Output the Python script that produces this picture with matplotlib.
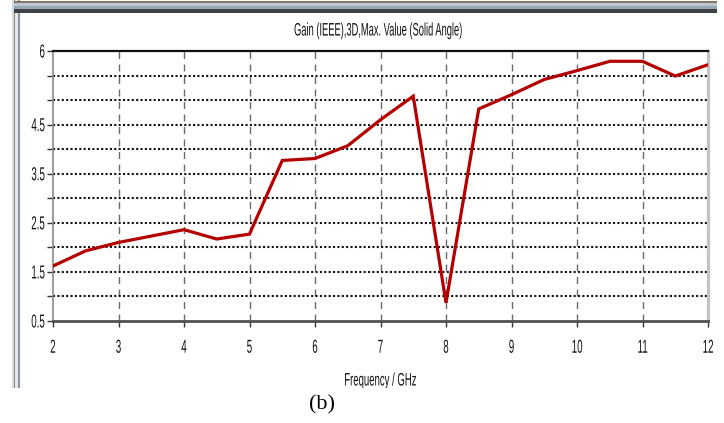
import matplotlib
matplotlib.use("Agg")
import matplotlib.pyplot as plt
from matplotlib.patches import Rectangle
from matplotlib import patheffects
from matplotlib.transforms import Affine2D

# Gain vs frequency data
freq_ghz = [2.0, 2.5, 3.0, 3.5, 4.0, 4.5, 5.0, 5.5, 6.0, 6.5, 7.0,
            7.5, 8.0, 8.5, 9.0, 9.5, 10.0, 10.5, 11.0, 11.5, 12.0]
gain_dbi = [1.62, 1.93, 2.10, 2.23, 2.36, 2.17, 2.27, 3.77, 3.81, 4.07, 4.60,
            5.08, 0.87, 4.82, 5.11, 5.42, 5.60, 5.79, 5.79, 5.49, 5.72]

x_ticks = list(range(2, 13))
y_grid = [0.5, 1.0, 1.5, 2.0, 2.5, 3.0, 3.5, 4.0, 4.5, 5.0, 5.5, 6.0]
y_labels = {0.5: "0.5", 1.5: "1.5", 2.5: "2.5", 3.5: "3.5", 4.5: "4.5", 6.0: "6"}

title_text = "Gain (IEEE),3D,Max. Value (Solid Angle)"
xlabel_text = "Frequency / GHz"
caption_text = "(b)"

SANS = ["Liberation Sans", "DejaVu Sans"]


class HStretch(patheffects.AbstractPathEffect):
    """Draw text glyphs squeezed horizontally (a condensed look)."""

    def __init__(self, sx, anchor="center"):
        super().__init__()
        self.sx = sx
        self.anchor = anchor

    def draw_path(self, renderer, gc, tpath, affine, rgbFace=None):
        ext = tpath.get_extents()
        if self.anchor == "right":
            cx = ext.x1
        elif self.anchor == "left":
            cx = ext.x0
        else:
            cx = 0.5 * (ext.x0 + ext.x1)
        aff = Affine2D().translate(-cx, 0).scale(self.sx, 1).translate(cx, 0) + affine
        renderer.draw_path(gc, tpath, aff, rgbFace)


W, H = 724, 423
fig = plt.figure(figsize=(W / 100, H / 100), dpi=100)
fig.patch.set_facecolor("white")


def fx(px):
    return px / W


def fy(py):
    return 1 - py / H


# window frame (left edge and top title bar strip)
frame_left = [(12, 2, "#cfdbe8"), (14, 1.2, "#9c8466"), (15.2, 2.8, "#e2e8ee"), (18, 2.2, "#8f9399")]
for x0, w, c in frame_left:
    fig.add_artist(Rectangle((fx(x0), fy(388)), w / W, 388 / H, transform=fig.transFigure,
                             facecolor=c, edgecolor="none", zorder=0))
frame_top = [(1, 2, "#8a7560"), (3, 3, "#b8c8d8"), (6, 3, "#9aa6b2"), (9, 4, "#3e4246")]
for y0, h, c in frame_top:
    fig.add_artist(Rectangle((fx(14), fy(y0 + h)), (717 - 14) / W, h / H, transform=fig.transFigure,
                             facecolor=c, edgecolor="none", zorder=0))

ax = fig.add_axes([fx(53), fy(321), fx(708) - fx(53), fy(51) - fy(321)])
ax.set_xlim(2, 12)
ax.set_ylim(0.5, 6)

# grid: dashed verticals at integer GHz, dotted horizontals every 0.5
for xv in x_ticks[1:-1]:
    ax.axvline(xv, color="#6a6a6a", lw=1.0, ls=(0, (5, 4)), zorder=1)
for yv in y_grid[1:-1]:
    ax.axhline(yv, color="#111111", lw=1.5, ls=(0, (1, 1.1)), zorder=1)

ax.plot(freq_ghz, gain_dbi, color="#b40000", lw=2.3, solid_joinstyle="miter", zorder=3)

ax.set_xticks(x_ticks)
ax.set_xticklabels([str(v) for v in x_ticks], family=SANS, fontsize=13.5, color="#111111")
ax.set_yticks(y_grid)
ax.set_yticklabels([y_labels.get(v, "") for v in y_grid], family=SANS, fontsize=13.5, color="#111111")
ax.tick_params(axis="x", direction="out", length=4, width=1, color="#333333", pad=9.5)
ax.tick_params(axis="y", direction="out", length=4, width=1, color="#333333", pad=1.5)
for lab in ax.get_xticklabels():
    lab.set_path_effects([HStretch(0.52, "center")])
for lab in ax.get_yticklabels():
    lab.set_path_effects([HStretch(0.52, "right")])

ax.spines["top"].set_color("#111111")
ax.spines["top"].set_linewidth(1.6)
ax.spines["bottom"].set_color("#505050")
ax.spines["bottom"].set_linewidth(2.0)
ax.spines["left"].set_color("#8a8a8a")
ax.spines["left"].set_linewidth(1.2)
ax.spines["right"].set_color("#c4c4c4")
ax.spines["right"].set_linewidth(2.4)

title = fig.text(fx(378), fy(31), title_text, ha="center", va="center", family=SANS,
                 fontsize=13, color="#111111")
xlabel = fig.text(fx(380), fy(381), xlabel_text, ha="center", va="center", family=SANS,
                  fontsize=13, color="#111111")
xlabel.set_clip_path(Rectangle((0, fy(388)), 1, 1, transform=fig.transFigure))
fig.text(fx(322), fy(405), caption_text, ha="center", va="center",
         family=["Liberation Serif", "DejaVu Serif"], fontsize=16, color="#000000")

# squeeze title and axis label to their condensed widths
fig.canvas.draw()
rend = fig.canvas.get_renderer()
for txt, target_px in ((title, 168), (xlabel, 72)):
    w = txt.get_window_extent(rend).width
    txt.set_path_effects([HStretch(target_px / w, "center")])

fig.savefig("out.png", dpi=100, facecolor="white")
